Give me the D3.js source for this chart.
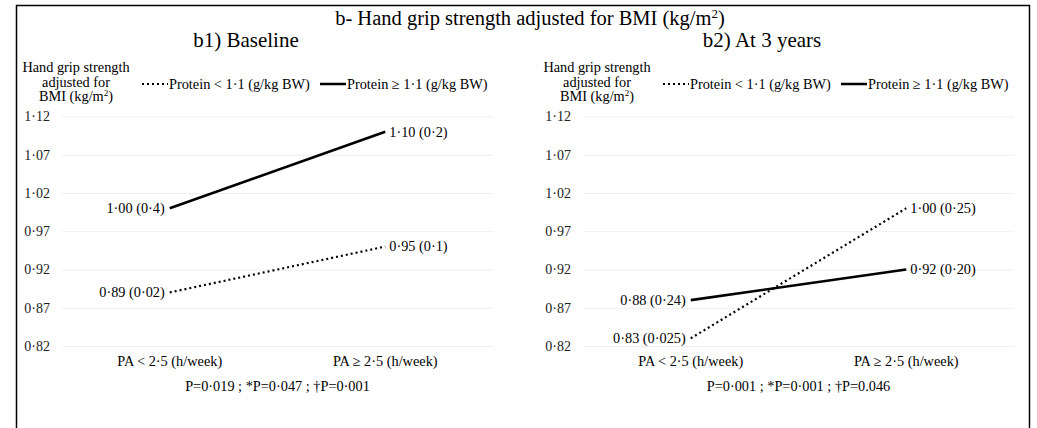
<!DOCTYPE html>
<html>
<head>
<meta charset="utf-8">
<script src="https://cdn.jsdelivr.net/npm/d3@7"></script>
<style>
  body { margin: 0; background: #fff; }
  .axis .domain { display: none; }
  .axis line { stroke: #eeeeee; }
  .axis text { fill: #222; }
</style>
</head>
<body>
<div id="chart"></div>
<script>
// -----------------------------
// data
// -----------------------------
const categories = ['PA < 2·5 (h/week)', 'PA \u2265 2·5 (h/week)']
const yTicks = [0.82, 0.87, 0.92, 0.97, 1.02, 1.07, 1.12]
const seriesNames = ['Protein < 1·1 (g/kg BW)', 'Protein \u2265 1·1 (g/kg BW)']

const baselineLow = [0.89, 0.95]
const baselineHigh = [1.00, 1.10]
const baselineLowLabels = ['0·89 (0·02)', '0·95 (0·1)']
const baselineHighLabels = ['1·00 (0·4)', '1·10 (0·2)']

const yearsLow = [0.83, 1.00]
const yearsHigh = [0.88, 0.92]
const yearsLowLabels = ['0·83 (0·025)', '1·00 (0·25)']
const yearsHighLabels = ['0·88 (0·24)', '0·92 (0·20)']

const panelTitles = ['b1) Baseline', 'b2) At 3 years']
const pTexts = ['P=0·019 ; *P=0·047 ; \u2020P=0·001', 'P=0·001 ; *P=0·001 ; \u2020P=0.046']

// -----------------------------
// setup
// -----------------------------
const FONT = 'Liberation Serif'
const W = 1037, H = 428
const svg = d3.select('#chart').append('svg')
    .attr('width', W).attr('height', H)
    .attr('font-family', FONT)

svg.append('rect')
    .attr('x', 16.5).attr('y', 5.5)
    .attr('width', 1013).attr('height', 440)
    .attr('fill', 'none').attr('stroke', '#000').attr('stroke-width', 1.5)

const title = svg.append('text')
    .attr('x', 530).attr('y', 25)
    .attr('text-anchor', 'middle')
    .attr('font-family', FONT)
    .attr('font-size', 20.5)
title.append('tspan').text('b- Hand grip strength adjusted for BMI (kg/m')
title.append('tspan').attr('font-size', 13).attr('dy', -7).text('2')
title.append('tspan').attr('dy', 7).text(')')

const yScale = d3.scaleLinear().domain([0.82, 1.12]).range([346, 116.5])
const fmt = d => d3.format('.2f')(d).replace('.', '·')

function drawPanel(ox, subX, subtitle, low, high, lowLabs, highLabs, pText) {
    const left = 62 + ox, right = 493 + ox
    const xScale = d3.scalePoint().domain(categories).range([left, right]).padding(0.5)
    const g = svg.append('g').attr('font-family', FONT)

    g.append('text')
        .attr('x', subX).attr('y', 47)
        .attr('text-anchor', 'middle')
        .attr('font-size', 21)
        .text(subtitle)

    // y label
    const yl = g.append('text')
        .attr('text-anchor', 'middle')
        .attr('font-size', 14.3)
    yl.append('tspan').attr('x', 76 + ox).attr('y', 72).text('Hand grip strength')
    yl.append('tspan').attr('x', 76 + ox).attr('y', 86.5).text('adjusted for')
    yl.append('tspan').attr('x', 76 + ox).attr('y', 101).text('BMI (kg/m')
    yl.append('tspan').attr('font-size', 9).attr('dy', -5).text('2')
    yl.append('tspan').attr('dy', 5).text(')')

    // legend
    const ly = 84
    const leg = [
        {x: 142 + ox, name: seriesNames[0], dash: '2,3'},
        {x: 320 + ox, name: seriesNames[1], dash: null}
    ]
    leg.forEach(d => {
        g.append('line')
            .attr('x1', d.x).attr('x2', d.x + 26)
            .attr('y1', ly).attr('y2', ly)
            .attr('stroke', '#000')
            .attr('stroke-width', d.dash ? 2 : 2.5)
            .attr('stroke-dasharray', d.dash)
        g.append('text')
            .attr('x', d.x + 27).attr('y', ly)
            .attr('dy', '0.33em')
            .attr('font-size', 14.3)
            .text(d.name)
    })

    // grid + y axis
    g.append('g')
        .attr('class', 'axis')
        .attr('transform', 'translate(' + left + ',0)')
        .call(d3.axisLeft(yScale).tickValues(yTicks).tickFormat(fmt)
            .tickSize(-(right - left)).tickPadding(12))
        .attr('font-family', FONT)
        .attr('font-size', 14)

    // x labels
    g.selectAll('text.xlab')
        .data(categories)
        .enter()
        .append('text')
        .attr('class', 'xlab')
        .attr('x', d => xScale(d))
        .attr('y', 366)
        .attr('text-anchor', 'middle')
        .attr('font-size', 14.3)
        .text(d => d)

    g.append('text')
        .attr('x', (left + right) / 2).attr('y', 391)
        .attr('text-anchor', 'middle')
        .attr('font-size', 14.3)
        .text(pText)

    const line = d3.line()
        .x((d, i) => xScale(categories[i]))
        .y(d => yScale(d))

    const series = [
        {vals: low, labs: lowLabs, dash: '2,3', w: 2.2},
        {vals: high, labs: highLabs, dash: null, w: 2.6}
    ]
    series.forEach(s => {
        g.append('path')
            .datum(s.vals)
            .attr('d', line)
            .attr('fill', 'none')
            .attr('stroke', '#000')
            .attr('stroke-width', s.w)
            .attr('stroke-dasharray', s.dash)

        g.selectAll(null)
            .data(s.vals)
            .enter()
            .append('text')
            .attr('x', (d, i) => xScale(categories[i]) + (i === 0 ? -5 : 4))
            .attr('y', d => yScale(d))
            .attr('dy', '0.33em')
            .attr('text-anchor', (d, i) => i === 0 ? 'end' : 'start')
            .attr('font-size', 14.3)
            .text((d, i) => s.labs[i])
    })
}

drawPanel(0, 246, panelTitles[0], baselineLow, baselineHigh, baselineLowLabels, baselineHighLabels, pTexts[0])
drawPanel(521, 762, panelTitles[1], yearsLow, yearsHigh, yearsLowLabels, yearsHighLabels, pTexts[1])
</script>
</body>
</html>
